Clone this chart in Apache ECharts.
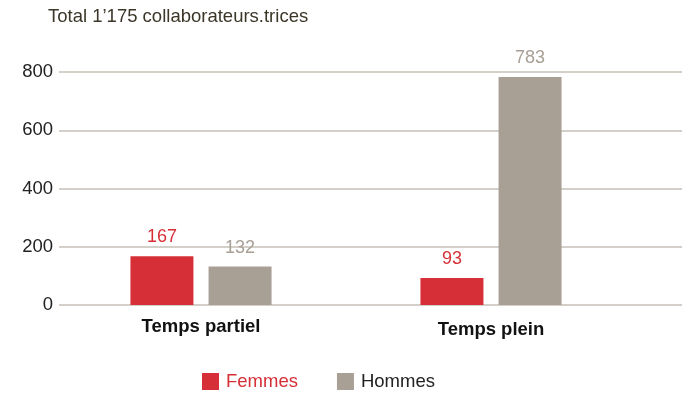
<!DOCTYPE html>
<html>
<head>
<meta charset="utf-8">
<script src="https://cdn.jsdelivr.net/npm/echarts@6/dist/echarts.min.js"></script>
<style>
  html, body { margin: 0; padding: 0; background: #fff; }
  #container { width: 686px; height: 403px; }
</style>
</head>
<body>
<div id="container"></div>
<script>
var categories = ['Temps partiel', 'Temps plein'];
var femmes = [167, 93];
var hommes = [132, 783];
var yTicks = [0, 200, 400, 600, 800];

var RED = '#d72f37';
var GREY = '#a89f95';
var FONT = '"Liberation Sans", Arial, sans-serif';

var dom = document.getElementById('container');
var myChart = echarts.init(dom);

var option = {
    animation: false,
    title: {
        text: 'Total 1\u2019175 collaborateurs.trices',
        left: 48,
        top: 7,
        padding: 0,
        textStyle: { fontFamily: FONT, fontSize: 18.5, fontWeight: 'normal', color: '#3b3628' }
    },
    legend: {
        data: [
            { name: 'Femmes', textStyle: { color: RED } },
            { name: 'Hommes', textStyle: { color: '#222' } }
        ],
        left: 197,
        top: 367,
        itemWidth: 17,
        itemHeight: 17,
        itemGap: 39,
        icon: 'rect',
        textStyle: { fontFamily: FONT, fontSize: 18.5, padding: [0, 0, 0, 2] }
    },
    grid: [
        // bars
        { left: 56, width: 580, top: 72, bottom: 98 },
        // gridlines and y labels across the full width
        { left: 59, right: 4, top: 72, bottom: 98 }
    ],
    xAxis: [
        {
            type: 'category',
            gridIndex: 0,
            data: categories,
            axisLine: { show: false },
            axisTick: { show: false },
            axisLabel: {
                margin: 12,
                formatter: function (v, i) { return i == 1 ? '{b|' + v + '}' : '{a|' + v + '}'; },
                rich: {
                    a: { fontFamily: FONT, fontSize: 18.5, fontWeight: 'bold', color: '#111' },
                    b: { fontFamily: FONT, fontSize: 18.5, fontWeight: 'bold', color: '#111', padding: [3, 0, 0, 0] }
                }
            }
        },
        {
            type: 'value',
            gridIndex: 1,
            show: false
        }
    ],
    yAxis: [
        {
            type: 'value',
            gridIndex: 0,
            min: yTicks[0],
            max: yTicks[yTicks.length - 1],
            interval: 200,
            axisLine: { show: false },
            axisTick: { show: false },
            axisLabel: { show: false },
            splitLine: { show: false }
        },
        {
            type: 'value',
            gridIndex: 1,
            min: yTicks[0],
            max: yTicks[yTicks.length - 1],
            interval: 200,
            axisLine: { show: false },
            axisTick: { show: false },
            axisLabel: { margin: 6, fontFamily: FONT, fontSize: 18.5, color: '#222' },
            splitLine: { lineStyle: { color: '#c6bfb7', width: 1.5 } }
        }
    ],
    series: [
        {
            name: 'Femmes',
            type: 'bar',
            xAxisIndex: 0,
            yAxisIndex: 0,
            data: femmes,
            barWidth: 63,
            barGap: '24%',
            itemStyle: { color: RED },
            label: { show: true, position: 'top', distance: 10, fontFamily: FONT, fontSize: 18, color: RED }
        },
        {
            name: 'Hommes',
            type: 'bar',
            xAxisIndex: 0,
            yAxisIndex: 0,
            data: hommes,
            barWidth: 63,
            barGap: '24%',
            itemStyle: { color: GREY },
            label: { show: true, position: 'top', distance: 10, fontFamily: FONT, fontSize: 18, color: GREY }
        }
    ]
};

myChart.setOption(option);
</script>
</body>
</html>
